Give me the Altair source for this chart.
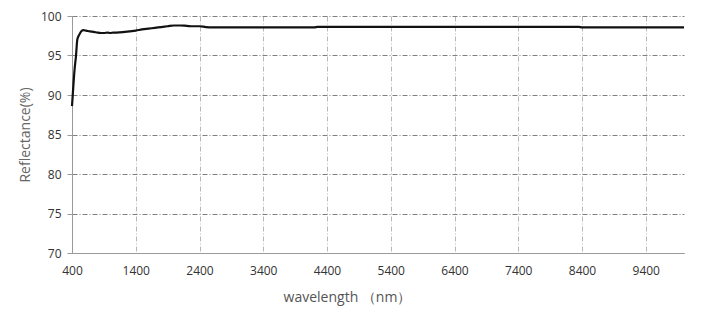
import altair as alt
import pandas as pd

wavelength = [400, 410, 420, 440, 462, 483, 505, 525, 550, 577, 620, 680, 740, 800, 850, 900, 960,
              1000, 1050, 1100, 1200, 1300, 1400, 1500, 1600, 1700, 1800, 1900, 2000, 2100, 2200,
              2300, 2400, 2500, 2600, 3000, 3600, 4200, 4250, 5000, 6000, 7000, 8000, 8350, 8400,
              9000, 10000]
reflectance = [88.6, 89.8, 91.0, 93.2, 94.9, 97.0, 97.5, 97.8, 98.1, 98.2, 98.15, 98.05, 98.0, 97.9,
               97.85, 97.85, 97.9, 97.85, 97.9, 97.9, 97.95, 98.05, 98.15, 98.3, 98.4, 98.5, 98.6,
               98.7, 98.8, 98.8, 98.75, 98.7, 98.7, 98.6, 98.55, 98.55, 98.55, 98.55, 98.62, 98.62,
               98.62, 98.62, 98.62, 98.62, 98.55, 98.55, 98.55]

x_ticks = [400, 1400, 2400, 3400, 4400, 5400, 6400, 7400, 8400, 9400]
y_ticks = [70, 75, 80, 85, 90, 95, 100]

df = pd.DataFrame({"wavelength": wavelength, "reflectance": reflectance})

FONT = "Open Sans"

chart = alt.Chart(df).mark_line(color="#111111", strokeWidth=2.2, interpolate="monotone").encode(
    x=alt.X("wavelength:Q",
            scale=alt.Scale(domain=[400, 10000], nice=False, zero=False),
            axis=alt.Axis(values=x_ticks, title="wavelength （nm）", format="d",
                          grid=True, gridColor="#b8b8b8", gridDash=[5, 2, 1, 2], gridWidth=1,
                          domainColor="#9a9a9a", ticks=False, labelPadding=12, labelFlush=False,
                          labelFontSize=12, labelColor="#333333", labelFont=FONT,
                          titleFont=FONT, titleFontSize=14, titleFontWeight="normal",
                          titleColor="#555555", titlePadding=14, titleX=275)),
    y=alt.Y("reflectance:Q",
            scale=alt.Scale(domain=[70, 100], nice=False, zero=False),
            axis=alt.Axis(values=y_ticks, title="Reflectance(%)",
                          grid=True, gridColor="#808080", gridDash=[5, 2, 1, 2], gridWidth=1,
                          domainColor="#9a9a9a", tickColor="#9a9a9a", tickSize=5,
                          labelPadding=6, labelFontSize=12, labelColor="#333333", labelFont=FONT,
                          titleFont=FONT, titleFontSize=14, titleFontWeight="normal",
                          titleColor="#666666", titlePadding=8)),
).properties(
    width=612, height=237,
    autosize=alt.AutoSizeParams(type="none"),
    padding={"left": 64, "top": 8, "right": 20, "bottom": 60},
).configure_view(stroke=None)

chart.save("out.html", embed_options={"renderer": "svg", "actions": False})
